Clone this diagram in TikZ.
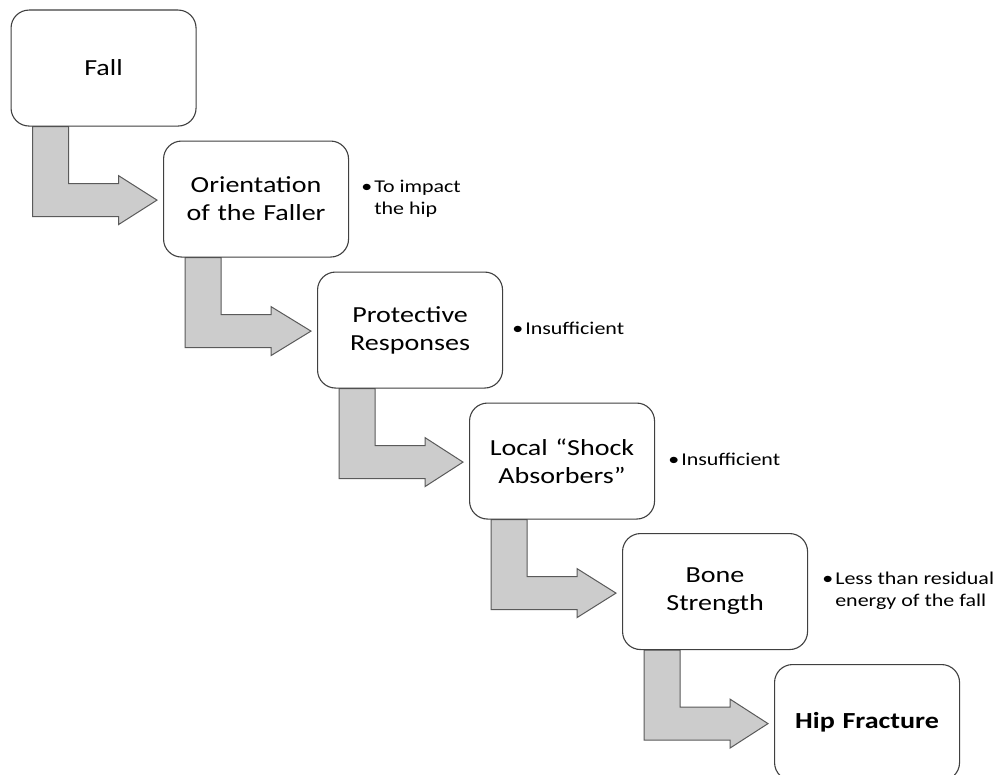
\documentclass[tikz,border=0pt]{standalone}
\usepackage{fontspec}
\setmainfont{Carlito}[FakeStretch=1.22]
\usetikzlibrary{calc}

\pgfdeclarelayer{background}
\pgfsetlayers{background,main}

\definecolor{boxline}{HTML}{404040}
\definecolor{arrowfill}{HTML}{CCCCCC}
\definecolor{arrowline}{HTML}{5A5A5A}

\tikzset{
  stage/.style={draw=boxline, fill=white, line width=1.1bp, rounded corners=18bp,
    minimum width=185bp, minimum height=116bp, text width=180bp, inner sep=0pt,
    align=center, anchor=north west, font=\fontsize{23bp}{28bp}\selectfont},
  note/.style={anchor=west, inner sep=0pt, font=\fontsize{18bp}{22bp}\selectfont},
  elbow/.style={fill=arrowfill, draw=arrowline, line width=1bp, line join=miter},
}

% elbow arrow leaving the bottom of #1 and pointing at the left side of #2
\newcommand\elbowarrow[2]{%
  \coordinate (sw) at (#1.south west);
  \coordinate (tipy) at ($(sw)+(0,73.5)$);
  \coordinate (tp) at ([xshift=-6bp]#2.west);
  \draw[elbow] ($(sw)+(22,0)$) -- ($(sw)+(58,0)$) -- ($(sw)+(58,57)$)
    -- ($(sw)+(108,57)$) -- ($(sw)+(108,49)$) -- (tp |- tipy)
    -- ($(sw)+(108,98)$) -- ($(sw)+(108,90)$) -- ($(sw)+(22,90)$) -- cycle;
}

\newcommand\bulletnote[1]{%
  \begin{tabular}{@{}l@{}l@{}}\makebox[13bp][l]{\textbullet} & #1\end{tabular}}

\begin{document}
\begin{tikzpicture}[x=1bp, y=-1bp]
  \useasboundingbox (0,0) rectangle (999,775);
  \clip (0,0) rectangle (999,775);

  % the chain of stages, stepping down to the right
  \node[stage] (fall)    at (10.5,9.5)  {Fall};
  \node[stage] (orient)  at (163,140.5) {Orientation\\of the Faller};
  \node[stage] (protect) at (317,271.5) {Protective\\Responses};
  \node[stage] (shock)   at (469,402.5) {Local “Shock\\Absorbers”};
  \node[stage] (bone)    at (622,533)   {Bone\\Strength};
  \node[stage] (hip)     at (774,664)   {\textbf{Hip Fracture}};

  % connectors, kept underneath the boxes
  \begin{pgfonlayer}{background}
    \fill[white] (0,0) rectangle (999,775);
    \elbowarrow{fall}{orient}
    \elbowarrow{orient}{protect}
    \elbowarrow{protect}{shock}
    \elbowarrow{shock}{bone}
    \elbowarrow{bone}{hip}
  \end{pgfonlayer}

  % side notes
  \node[note] (n1) at ([xshift=12bp]orient.east)  {\bulletnote{To impact\\ & the hip}};
  \node[note] (n2) at ([xshift=9bp]protect.east)  {\bulletnote{Insufficient}};
  \node[note] (n3) at ([xshift=13bp]shock.east)   {\bulletnote{Insufficient}};
  \node[note] (n4) at ([xshift=14bp]bone.east)    {\bulletnote{Less than residual\\ & energy of the fall}};
\end{tikzpicture}
\end{document}
